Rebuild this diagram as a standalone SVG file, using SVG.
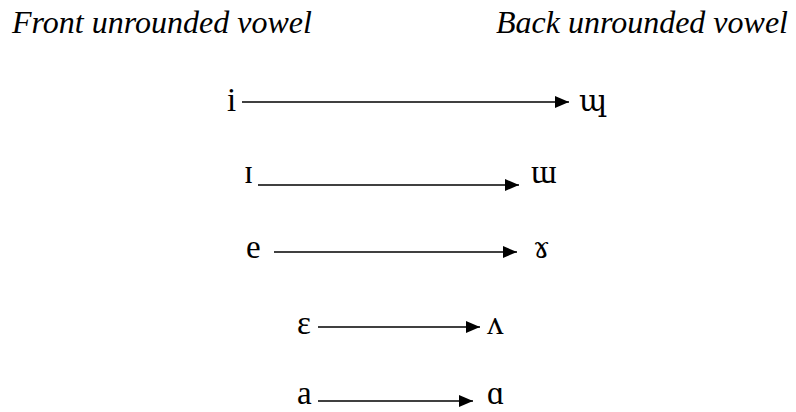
<svg xmlns="http://www.w3.org/2000/svg" width="796" height="412" viewBox="0 0 796 412">
<style>
.h{font-family:"Liberation Serif","DejaVu Serif",serif;font-style:italic;font-size:32px;fill:#000}
.v{font-family:"Liberation Serif","DejaVu Serif",serif;font-size:33px;fill:#000}
.d{font-family:"DejaVu Serif","Liberation Serif",serif;font-size:30px;fill:#000}
.c{stroke:#000;stroke-width:1.6;fill:none}
</style>
<defs>
<marker id="ah" markerWidth="14" markerHeight="12" refX="14" refY="6" orient="auto" markerUnits="userSpaceOnUse">
<path d="M0,0 L14,6 L0,12 Z" fill="#000"/>
</marker>
</defs>
<rect width="796" height="412" fill="#fff"/>
<g id="headers">
<text class="h" x="12" y="33">Front unrounded vowel</text>
<text class="h" x="788" y="33" text-anchor="end">Back unrounded vowel</text>
</g>
<g id="n-i"><text class="v" x="227" y="111">i</text></g>
<g id="n-uu"><text class="d" x="579" y="111">ɰ</text></g>
<g id="n-I"><text class="v" x="244" y="183">ɪ</text></g>
<g id="n-m"><text class="v" x="531" y="183">ɯ</text></g>
<g id="n-e"><text class="v" x="246" y="258">e</text></g>
<g id="n-gamma"><text class="d" x="533" y="258">ɤ</text></g>
<g id="n-eps"><text class="v" x="297" y="334">ɛ</text></g>
<g id="n-wedge"><text class="v" x="487" y="334">ʌ</text></g>
<g id="n-a"><text class="v" x="297" y="404">a</text></g>
<g id="n-alpha"><text class="v" x="487" y="404">ɑ</text></g>
<g id="connectors">
<line class="c" x1="242" y1="102" x2="569" y2="102" marker-end="url(#ah)"/>
<line class="c" x1="258" y1="185" x2="519" y2="185" marker-end="url(#ah)"/>
<line class="c" x1="274" y1="252" x2="517" y2="252" marker-end="url(#ah)"/>
<line class="c" x1="318" y1="327" x2="480" y2="327" marker-end="url(#ah)"/>
<line class="c" x1="318" y1="401" x2="473" y2="401" marker-end="url(#ah)"/>
</g>
</svg>
